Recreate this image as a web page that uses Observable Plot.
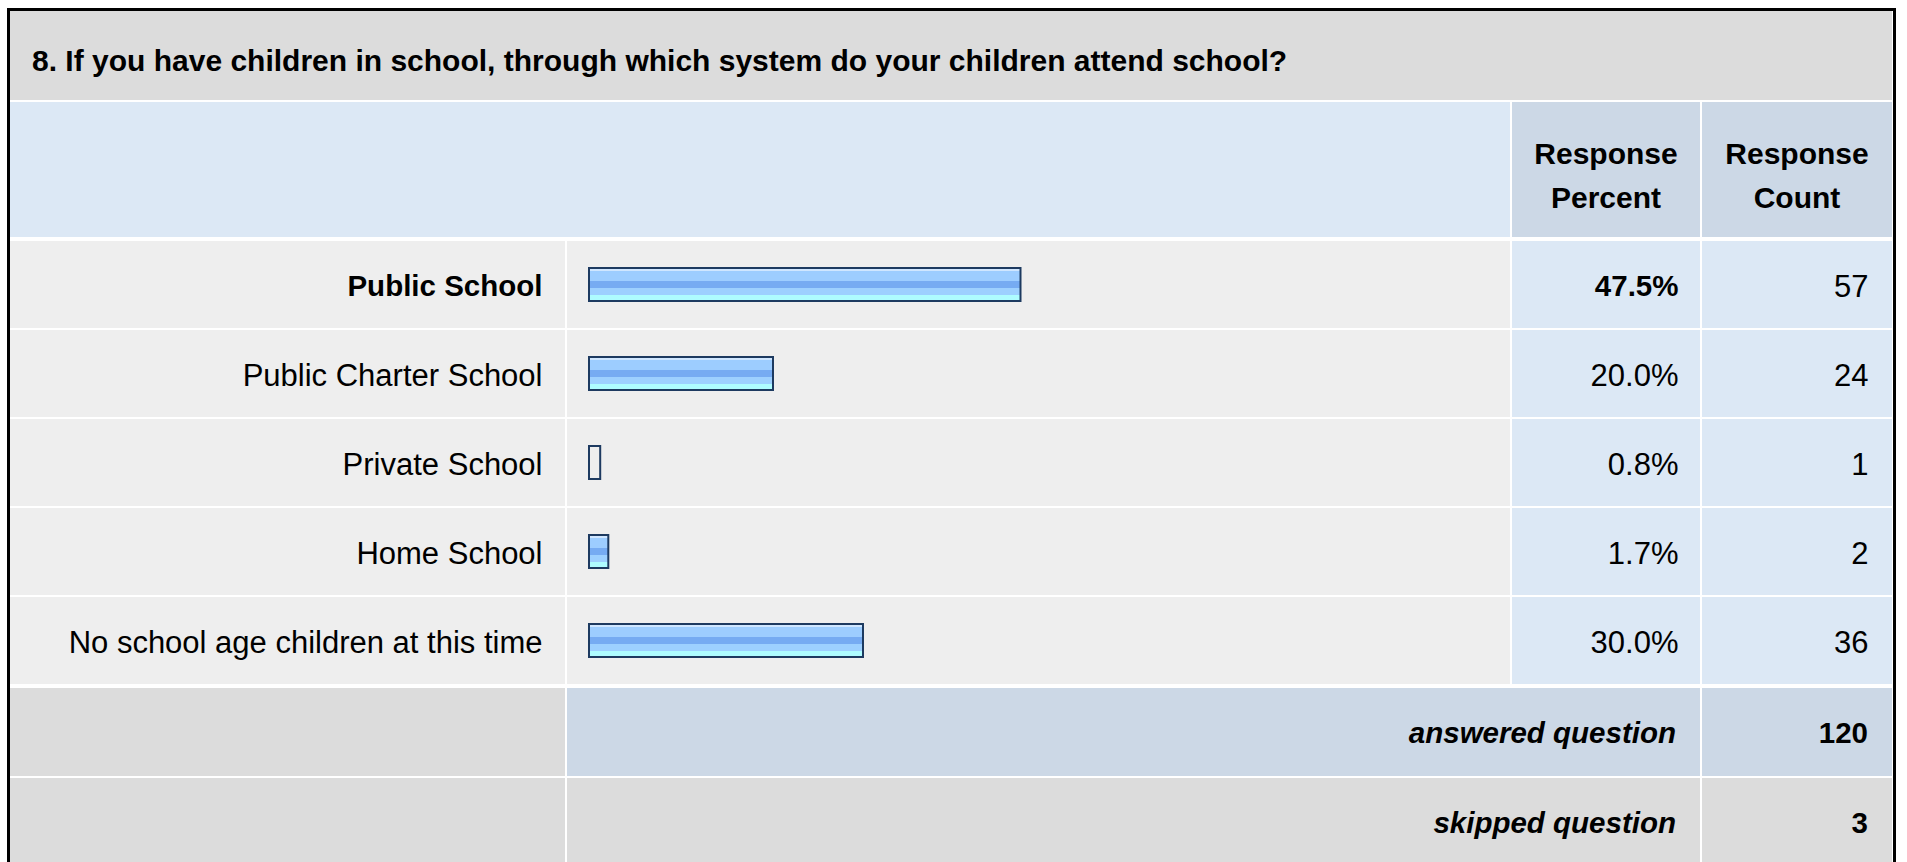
<!DOCTYPE html>
<html>
<head>
<meta charset="utf-8">
<script src="https://cdn.jsdelivr.net/npm/d3@7"></script>
<script src="https://cdn.jsdelivr.net/npm/@observablehq/plot@0.6"></script>
<style>
  html, body { margin: 0; padding: 0; background: #fff; }
  #root { position: relative; width: 1907px; height: 862px; overflow: hidden;
          font-family: "Liberation Sans", Arial, Helvetica, sans-serif; font-size: 31px; color: #000; }
  .abs { position: absolute; box-sizing: border-box; }
  .flex { display: flex; align-items: center; }
  .bold { font-weight: bold; font-size: 29.5px; }
  .ital { font-style: italic; }
  svg { overflow: visible; }
</style>
</head>
<body>
<div id="root"></div>
<script>
// ---------------- data ----------------
const question = "8. If you have children in school, through which system do your children attend school?";
const percentHeader = ["Response", "Percent"];
const countHeader = ["Response", "Count"];
const categories = ["Public School", "Public Charter School", "Private School", "Home School", "No school age children at this time"];
const percents = [47.5, 20.0, 0.8, 1.7, 30.0];
const counts = [57, 24, 1, 2, 36];
const summaryLabels = ["answered question", "skipped question"];
const summaryValues = [120, 3];

// ---------------- build ----------------
const rows = categories.map((c, i) => ({label: c, percent: percents[i], count: counts[i]}));
const maxCount = d3.max(counts);
const isTop = d => d.count === maxCount;
const notTop = d => d.count !== maxCount;

const FONT = '"Liberation Sans", Arial, Helvetica, sans-serif';
const REG = 31, BOLD = 29.5;
const C = {
  title: "#DCDCDC", head: "#DCE8F5", headCell: "#CCD8E6",
  row: "#EEEEEE", val: "#DCE8F5", sumBlue: "#CCD8E6", sumGray: "#DCDCDC"
};
// layout (table geometry)
const G = {
  left: 10, labelW: 555, barL: 567, barW: 943, pctL: 1512, pctW: 188, cntL: 1702, cntW: 190,
  titleT: 11, titleH: 89, headT: 102, headH: 135, rowsT: 237, rowsH: 449,
  sum1T: 688, sum2T: 778, sumH: 88
};

const root = document.getElementById("root");
function box(x, y, w, h, bg, cls = "", style = "") {
  const d = document.createElement("div");
  d.className = "abs " + cls;
  d.style.cssText = `left:${x}px;top:${y}px;width:${w}px;height:${h}px;background:${bg};${style}`;
  root.appendChild(d);
  return d;
}

// outer border
box(7, 8, 1889, 900, "transparent", "", "border:3px solid #000;");

// title row
const t = box(G.left, G.titleT, 1882, G.titleH, C.title, "flex bold", "padding-left:22px;padding-top:11px;font-size:30px;");
t.textContent = question;

// header row
box(G.left, G.headT, 1500, G.headH, C.head);
const hp = box(G.pctL, G.headT, G.pctW, G.headH, C.headCell, "flex bold",
  "justify-content:center;text-align:center;line-height:44px;padding-top:13px;font-size:30px;");
hp.innerHTML = percentHeader.join("<br>");
const hc = box(G.cntL, G.headT, G.cntW, G.headH, C.headCell, "flex bold",
  "justify-content:center;text-align:center;line-height:44px;padding-top:13px;font-size:30px;");
hc.innerHTML = countHeader.join("<br>");

// data rows: one Plot per column, sharing the categorical y band
function column(width, marks, x = {axis: null}) {
  return Plot.plot({
    width, height: G.rowsH, margin: 0,
    x,
    y: {domain: categories, axis: null, padding: 0},
    style: {background: "transparent", fontFamily: FONT, fontSize: REG + "px", overflow: "visible"},
    marks
  });
}
function place(svg, x, y) {
  svg.style.position = "absolute";
  svg.style.left = x + "px";
  svg.style.top = y + "px";
  root.appendChild(svg);
}
const txt = (opts) => ({y: "label", frameAnchor: "right", textAnchor: "end", dy: 3, fontSize: REG, fill: "#000", ...opts});

const labelPlot = column(G.labelW, [
  Plot.cell(rows, {y: "label", fill: C.row, insetTop: 2}),
  Plot.text(rows, txt({filter: notTop, text: "label", dx: -23})),
  Plot.text(rows, txt({filter: isTop, text: "label", dx: -23, fontWeight: "bold", fontSize: BOLD}))
]);
place(labelPlot, G.left, G.rowsT);

const barOpts = {x: "percent", y: "label", insetTop: 29, insetBottom: 27, insetLeft: -5, insetRight: 1};
const barPlot = column(G.barW, [
  Plot.cell(rows, {y: "label", fill: C.row, insetTop: 2}),
  Plot.barX(rows, {...barOpts, filter: d => d.percent >= 1, fill: "url(#barGrad)"}),
  Plot.barX(rows, {...barOpts, fill: "none", stroke: "#1D3A60", strokeWidth: 2})
], {axis: null, domain: [0, 100], range: [27, 927]});
// vertical gradient used for the bar fill
const defs = d3.create("svg:defs");
const lg = defs.append("linearGradient").attr("id", "barGrad")
  .attr("x1", 0).attr("y1", 0).attr("x2", 0).attr("y2", 1);
[[0, "#CFE6FF"], [0.1, "#CFE6FF"], [0.1, "#9DCDFF"], [0.38, "#9DCDFF"], [0.38, "#76ABF2"],
 [0.62, "#76ABF2"], [0.62, "#9DD0FF"], [0.82, "#9DD0FF"], [0.82, "#AEFCFF"], [1, "#AEFCFF"]]
  .forEach(([o, c]) => lg.append("stop").attr("offset", o).attr("stop-color", c));
barPlot.insertBefore(defs.node(), barPlot.firstChild);
place(barPlot, G.barL, G.rowsT);

const pctPlot = column(G.pctW, [
  Plot.cell(rows, {y: "label", fill: C.val, insetTop: 2}),
  Plot.text(rows, txt({filter: notTop, text: d => d.percent.toFixed(1) + "%", dx: -22})),
  Plot.text(rows, txt({filter: isTop, text: d => d.percent.toFixed(1) + "%", dx: -22, fontWeight: "bold", fontSize: BOLD}))
]);
place(pctPlot, G.pctL, G.rowsT);

const cntPlot = column(G.cntW, [
  Plot.cell(rows, {y: "label", fill: C.val, insetTop: 2}),
  Plot.text(rows, txt({text: d => String(d.count), dx: -24}))
]);
place(cntPlot, G.cntL, G.rowsT);

// summary rows
[[G.sum1T, C.sumBlue], [G.sum2T, C.sumGray]].forEach(([top, bg], i) => {
  box(G.left, top, G.labelW, G.sumH, C.sumGray);
  const m = box(G.barL, top, G.cntL - 2 - G.barL, G.sumH, bg, "flex bold ital",
    "justify-content:flex-end;padding-right:24px;padding-top:2px;");
  m.textContent = summaryLabels[i];
  const v = box(G.cntL, top, G.cntW, G.sumH, bg, "flex bold",
    "justify-content:flex-end;padding-right:24px;padding-top:2px;");
  v.textContent = String(summaryValues[i]);
});
</script>
</body>
</html>
